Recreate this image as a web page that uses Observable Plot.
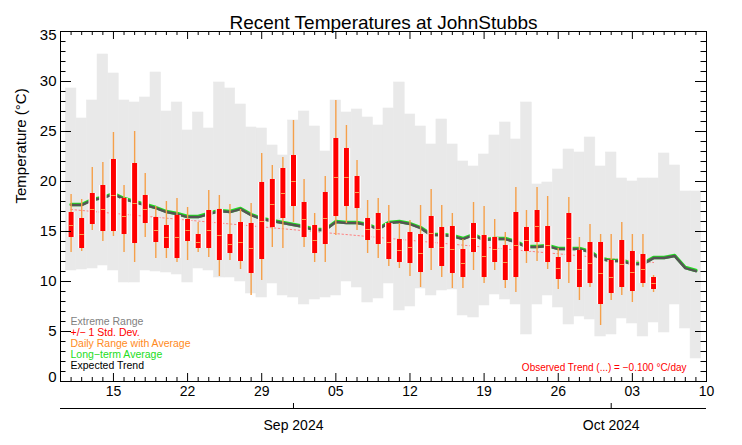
<!DOCTYPE html>
<html><head><meta charset="utf-8">
<script src="https://cdn.jsdelivr.net/npm/d3@7"></script>
<script src="https://cdn.jsdelivr.net/npm/@observablehq/plot@0.6"></script>
<style>body{margin:0;background:#fff} svg{display:block}</style>
</head><body><div id="chart"></div>
<script>
// ---------- data ----------
const title = "Recent Temperatures at JohnStubbs";
const yLabel = "Temperature (°C)";
const trendLabel = "Observed Trend (...) = \u22120.100 °C/day";
const legendLabels = ["Extreme Range", "+/\u2212 1 Std. Dev.", "Daily Range with Average", "Long\u2212term Average", "Expected Trend"];
const legendColors = ["#7f7f7f", "#ff0000", "#ff8a1c", "#22dd22", "#000000"];
const yTickValues = [0, 5, 10, 15, 20, 25, 30, 35];

// record high / low per day, Aug 11 .. Oct 9
const recHigh = [29.3,26.3,28.1,32.7,30.8,28.1,27.9,28.4,30.9,27.0,27.9,25.1,26.9,25.3,29.9,29.3,27.7,25.4,25.3,23.6,22.6,
  26.1,27.0,25.5,23.0,28.1,26.9,27.2,26.4,25.6,27.3,29.9,26.7,25.5,23.7,26.2,23.7,22.0,21.5,22.7,24.6,25.9,24.2,27.9,19.7,19.9,21.2,23.2,22.9,24.4,21.5,
  22.9,20.3,20.0,20.3,20.3,22.8,21.6,19.0,19.0];
const recLow = [11.1,11.2,11.3,11.6,11.1,9.9,9.9,11.1,11.0,10.9,10.7,9.9,11.3,11.1,10.4,10.4,10.0,8.8,8.4,9.8,8.6,
  8.4,7.7,8.2,8.4,8.6,10.0,9.4,7.9,8.3,9.8,7.1,7.5,9.3,8.6,9.1,9.2,6.6,6.4,7.6,8.7,8.2,7.7,4.7,7.7,8.6,7.4,5.7,6.5,6.2,4.5,
  4.7,6.3,5.8,4.5,5.9,4.9,7.7,5.3,2.3];
// long-term average / expected trend, Aug 11 .. Oct 9
const normal = [17.7,17.7,18.2,18.4,18.8,18.3,18.0,17.7,17.4,17.0,16.8,16.5,16.5,16.8,17.1,17.0,17.3,16.7,16.3,16.1,15.9,
  15.7,15.5,15.2,15.2,16.0,15.9,15.9,15.7,15.3,15.9,16.0,15.8,15.4,14.7,14.7,14.6,14.3,14.7,14.2,14.3,14.3,14.0,13.5,13.5,13.6,13.3,13.3,13.3,13.0,12.3,
  12.1,12.1,11.8,11.8,12.4,12.4,12.6,11.4,11.1];
// observed daily values, Aug 11 .. Oct 5
const dayMax = [18.7,18.2,21.4,21.9,24.9,19.6,25.0,20.8,17.5,18.0,18.3,17.4,15.9,19.1,18.6,17.7,17.2,17.8,22.8,21.6,22.4,
  26.1,20.2,16.8,20.5,28.1,25.6,22.1,18.1,18.3,17.6,15.8,16.1,17.6,19.2,17.6,16.8,14.2,17.9,17.5,16.2,14.9,19.4,17.1,19.4,18.5,13.3,18.4,14.4,15.7,14.7,
  14.7,15.9,14.7,14.7,10.6];
const dayMin = [12.9,13.0,15.1,14.0,14.5,12.9,11.9,14.4,12.3,12.3,11.9,12.1,12.9,12.4,10.5,12.1,11.2,8.6,10.1,13.4,13.3,
  15.9,13.4,11.9,11.9,14.6,15.8,15.1,12.8,12.3,11.5,11.3,10.5,9.4,11.1,10.4,9.3,9.3,11.1,9.8,11.1,9.3,8.9,11.8,12.0,11.2,9.2,9.8,8.1,9.4,5.6,
  8.1,8.6,7.9,9.4,8.9];
const sdHigh = [16.9,16.3,18.8,19.6,22.2,18.3,21.8,18.6,16.4,15.6,16.6,16.2,14.7,17.1,17.2,14.7,15.9,15.8,19.9,20.2,21.3,
  22.6,17.9,15.6,18.9,24.3,23.3,20.5,16.3,16.8,15.8,14.2,14.9,14.7,16.5,15.4,15.5,13.2,15.8,14.6,14.4,13.6,16.9,15.4,17.1,15.5,12.4,16.8,13.1,13.9,13.9,
  12.1,14.1,13.0,12.7,10.4];
const sdLow = [14.4,13.3,15.7,15.0,15.0,14.7,13.8,15.8,13.9,13.3,12.3,14.0,13.3,13.3,12.1,12.8,12.0,10.8,12.2,15.4,16.3,
  17.5,14.4,12.8,13.7,16.5,17.5,17.3,14.1,13.7,12.2,11.9,11.8,10.9,13.3,11.5,10.8,10.4,12.9,10.4,11.9,10.1,10.4,13.0,13.9,11.9,10.2,11.9,9.4,9.8,7.7,
  8.8,9.4,9.0,9.8,9.2];
const dayAvg = [15.6,14.7,17.2,17.2,18.6,16.5,17.8,17.2,15.1,14.4,14.4,15.1,13.9,15.1,14.6,13.7,13.9,13.3,16.0,17.7,18.8,
  20.0,16.2,14.1,16.3,20.4,20.4,18.9,15.2,15.2,13.9,13.1,13.4,12.8,14.8,13.4,13.2,11.8,14.3,12.5,13.2,11.9,13.6,14.1,15.5,13.6,11.3,14.3,11.2,11.8,10.8,
  10.4,11.7,10.9,11.2,9.8];
// observed linear trend end points (Aug 11 and Oct 5)
const trendValues = [17.2, 11.9];

// ---------- dates ----------
const firstDay = new Date(Date.UTC(2024, 7, 11));
const days = d3.utcDay.range(firstDay, new Date(Date.UTC(2024, 9, 10)));          // 60 days
const obsDays = days.slice(0, dayMax.length);
const xDomain = [new Date(Date.UTC(2024, 7, 10)), new Date(Date.UTC(2024, 9, 10))];
const allTicks = d3.utcDay.range(xDomain[0], d3.utcDay.offset(xDomain[1], 1));
const weekTicks = d3.utcDay.range(new Date(Date.UTC(2024, 7, 15)), d3.utcDay.offset(xDomain[1], 1), 7);
const minorTicks = allTicks.filter(d => !weekTicks.some(w => +w === +d));
const monthTicks = [new Date(Date.UTC(2024, 8, 1)), new Date(Date.UTC(2024, 9, 1))];

const rangeRows = days.map((date, i) => ({date, lo: recLow[i], hi: recHigh[i]}));
const normalRows = days.map((date, i) => ({date, value: normal[i]}));
const obsRows = obsDays.map((date, i) => ({date, max: dayMax[i], min: dayMin[i], sdHi: sdHigh[i], sdLo: sdLow[i], avg: dayAvg[i]}));
const trendRows = [{date: obsDays[0], value: trendValues[0]}, {date: obsDays[obsDays.length - 1], value: trendValues[1]}];
const yMinor = d3.range(0, 36).filter(v => v % 5 !== 0);
const yMid = yTickValues.filter(v => v > 0 && v < 35);

// ---------- layout ----------
const W = 742, H = 445, mL = 60, mR = 36, mT = 31, mB = 64;
const pW = W - mL - mR, pH = H - mT - mB;
const ink = "#000";

const legendMarks = legendLabels.map((label, i) =>
  Plot.text([label], {frameAnchor: "bottom-left", dx: 10, dy: -57 + i * 11.2, textAnchor: "start", fill: legendColors[i], fontSize: 10.5}));

const chart = Plot.plot({
  width: W, height: H,
  marginLeft: mL, marginRight: mR, marginTop: mT, marginBottom: mB,
  x: {type: "utc", domain: xDomain, axis: null},
  y: {domain: [0, 35], axis: null},
  style: {fontFamily: "'Liberation Sans', Arial, Helvetica, sans-serif", background: "#fff", color: "#000"},
  marks: [
    Plot.rect(rangeRows, {x1: d => d3.utcHour.offset(d.date, -12), x2: d => d3.utcHour.offset(d.date, 12), y1: "lo", y2: "hi", fill: "#e9e9e9", stroke: "#e9e9e9", strokeWidth: 0.6}),
    Plot.line(trendRows, {x: "date", y: "value", stroke: "#ff8080", strokeWidth: 1, strokeDasharray: "1.5,2.5"}),
    Plot.line(normalRows, {x: "date", y: "value", stroke: "#22dd22", strokeWidth: 3.4}),
    Plot.line(normalRows, {x: "date", y: "value", stroke: "#555555", strokeWidth: 2.5, dy: 0.6}),
    Plot.ruleX(obsRows, {x: "date", y1: "min", y2: "max", stroke: "#f5a04a", strokeWidth: 1.4}),
    Plot.ruleX(obsRows, {x: "date", y1: "sdLo", y2: "sdHi", stroke: "#fff", strokeWidth: 7.5}),
    Plot.ruleX(obsRows, {x: "date", y1: "sdLo", y2: "sdHi", stroke: "#ff0000", strokeWidth: 5}),
    Plot.link(obsRows, {x1: d => d3.utcHour.offset(d.date, -5), x2: d => d3.utcHour.offset(d.date, 5), y1: "avg", y2: "avg", stroke: "#f7a050", strokeWidth: 1}),
    // x ticks (inward, top and bottom)
    Plot.tickX(minorTicks, {insetTop: pH - 4, stroke: ink}),
    Plot.tickX(minorTicks, {insetBottom: pH - 4, stroke: ink}),
    Plot.tickX(weekTicks, {insetTop: pH - 8, stroke: ink}),
    Plot.tickX(weekTicks, {insetBottom: pH - 8, stroke: ink}),
    // y ticks (inward, left and right)
    Plot.tickY(yMinor, {insetRight: pW - 5.5, stroke: ink}),
    Plot.tickY(yMinor, {insetLeft: pW - 5.5, stroke: ink}),
    Plot.tickY(yTickValues, {insetRight: pW - 11, stroke: ink}),
    Plot.tickY(yTickValues, {insetLeft: pW - 11, stroke: ink}),
    Plot.frame({stroke: ink, strokeWidth: 1}),
    // month axis below
    Plot.ruleY([0], {dy: 27, stroke: ink}),
    Plot.tickX(monthTicks, {insetTop: pH - 5, dy: 27, stroke: ink}),
    // labels
    Plot.text(weekTicks, {x: d => d, text: d => d3.utcFormat("%d")(d), frameAnchor: "bottom", dy: 14, fontSize: 14, fill: ink}),
    Plot.text(monthTicks, {x: d => d, text: d => d3.utcFormat("%b %Y")(d), frameAnchor: "bottom", dy: 48, fontSize: 14, fill: ink}),
    Plot.text(yMid, {y: d => d, text: d => String(d), frameAnchor: "left", dx: -4, textAnchor: "end", fontSize: 15, fill: ink}),
    Plot.text([yTickValues[yTickValues.length - 1]], {y: d => d, text: d => String(d), frameAnchor: "left", dx: -4, dy: 4, textAnchor: "end", fontSize: 15, fill: ink}),
    Plot.text([yTickValues[0]], {y: d => d, text: d => String(d), frameAnchor: "left", dx: -4, dy: -4, textAnchor: "end", fontSize: 15, fill: ink}),
    Plot.text([yLabel], {frameAnchor: "left", dx: -39, dy: -3, rotate: -90, fontSize: 15, fill: ink}),
    Plot.text([title], {frameAnchor: "top", dy: -16, fontSize: 19, fill: ink}),
    Plot.text([trendLabel], {frameAnchor: "bottom-right", dx: -20, dy: -10.3, textAnchor: "end", fill: "#ff0000", fontSize: 10}),
    ...legendMarks
  ]
});
document.getElementById("chart").appendChild(chart);
</script>
</body></html>
